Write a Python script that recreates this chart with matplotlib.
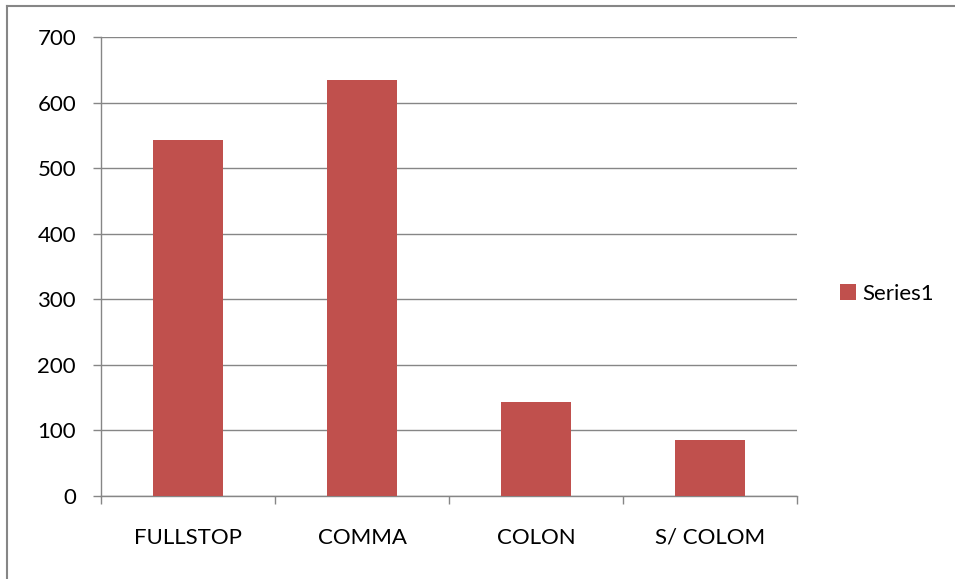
import numpy as np
import matplotlib
matplotlib.use("Agg")
import matplotlib.pyplot as plt
from matplotlib.lines import Line2D

categories = ["FULLSTOP", "COMMA", "COLON", "S/ COLOM"]
series1 = [543, 634, 144, 85]
yticks = [0, 100, 200, 300, 400, 500, 600, 700]

bar_color = "#C0504D"
line_color = "#868686"
fsize = 16

plt.rcParams["font.family"] = ["Lato", "DejaVu Sans"]

fig = plt.figure(figsize=(9.55, 5.79), dpi=100)
ax = fig.add_axes([101 / 955, 1 - 496 / 579, 696 / 955, 459 / 579])

x = np.arange(len(categories))
ax.bar(x, series1, width=0.4, color=bar_color, label="Series1", zorder=3)

ax.set_xlim(-0.5, len(categories) - 0.5)
ax.set_ylim(0, 700)
ax.set_yticks(yticks)
ax.set_yticklabels([str(v) for v in yticks], fontsize=fsize)
ax.yaxis.grid(True, color=line_color, linewidth=1, zorder=0)

# category labels centred, tick marks on category boundaries
ax.set_xticks(x)
ax.set_xticklabels(categories, fontsize=fsize)
ax.tick_params(axis="x", length=0, pad=23)
ax.set_xticks(np.arange(-0.5, len(categories)), minor=True)
ax.tick_params(axis="x", which="minor", length=6, color=line_color, width=1)
ax.tick_params(axis="y", length=6, color=line_color, width=1, pad=12)

for side in ["top", "right"]:
    ax.spines[side].set_visible(False)
for side in ["left", "bottom"]:
    ax.spines[side].set_color(line_color)
    ax.spines[side].set_linewidth(1)

fig.legend(loc="center left", bbox_to_anchor=(820 / 955, 1 - 294 / 579),
           frameon=False, fontsize=fsize, handlelength=0.7, handleheight=0.7,
           handletextpad=0.3)

# chart border
fig.add_artist(Line2D([7 / 955, 7 / 955], [0, 1 - 6 / 579], color=line_color,
                      linewidth=1.5, transform=fig.transFigure))
fig.add_artist(Line2D([7 / 955, 1], [1 - 6 / 579, 1 - 6 / 579], color=line_color,
                      linewidth=1.5, transform=fig.transFigure))

fig.savefig("out.png", dpi=100)
